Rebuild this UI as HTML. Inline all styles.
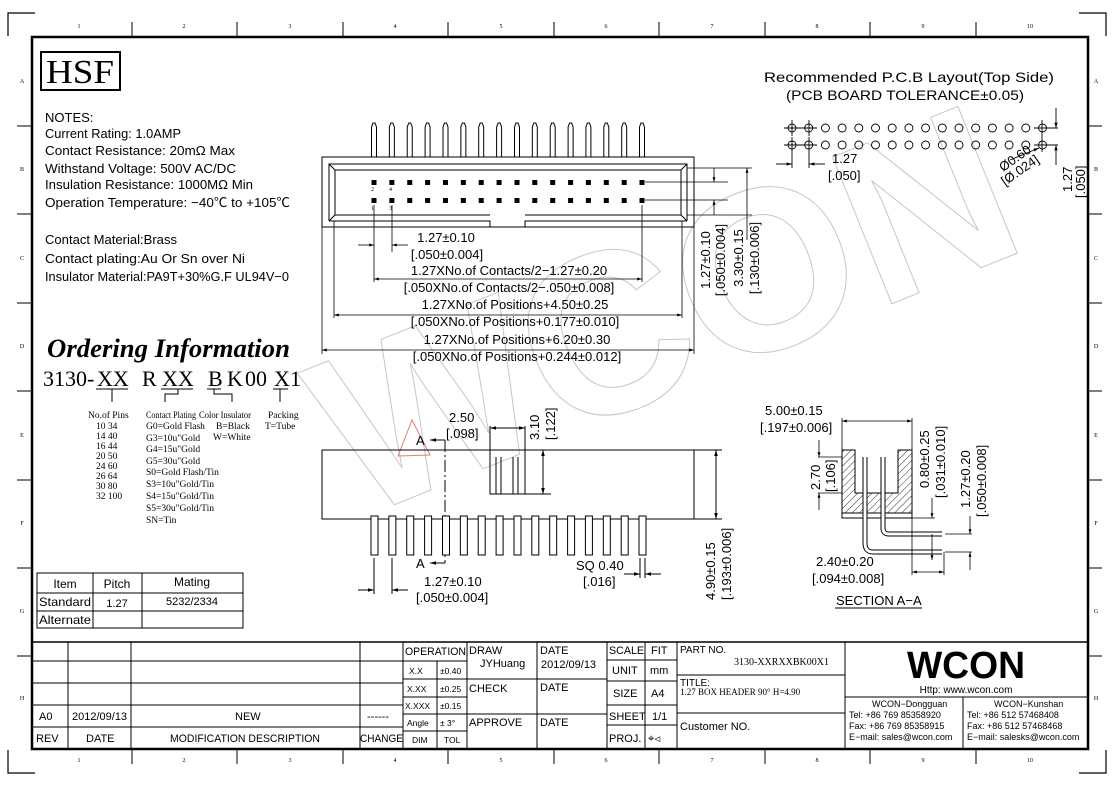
<!DOCTYPE html>
<html><head><meta charset="utf-8"><style>
html,body{margin:0;padding:0;background:#fff;}
svg{display:block;}
text{font-family:"Liberation Sans","Noto Sans CJK SC",sans-serif;fill:#000;}
text.s,.s text{font-family:"Liberation Serif","Noto Serif CJK SC",serif;}
.t13,.t13 text{font-size:13px;}
.t12 text{font-size:12px;}
.t11 text{font-size:11px;}
.o9 text{font-family:"Liberation Serif",serif;font-size:9.5px;}
text.wm{fill:none;stroke:#c4c4d4;stroke-width:1;}
</style></head><body>
<svg width="1114" height="786" viewBox="0 0 1114 786" xmlns="http://www.w3.org/2000/svg">
<defs>
<marker id="ar" viewBox="0 0 10 10" refX="10" refY="5" markerWidth="8" markerHeight="6" orient="auto-start-reverse"><path d="M0,2 L10,5 L0,8 z" fill="#000"/></marker>
<pattern id="hatch" patternUnits="userSpaceOnUse" width="5" height="5" patternTransform="rotate(45)"><line x1="0" y1="0" x2="0" y2="5" stroke="#000" stroke-width="0.8"/></pattern>
</defs>

<text class="wm" x="300" y="430" transform="rotate(-22 560 330)" font-size="230" font-weight="bold">WCON</text>
<path d="M412,420 L430,455 L398,456 Z" fill="none" stroke="#e08070" stroke-width="1"/>

<g stroke="#000" stroke-width="1.2" fill="none">
<path d="M8,36 V13 H35"/><path d="M1079,13 H1106 V36"/><path d="M8,750 V773 H35"/><path d="M1079,773 H1106 V750"/>
</g>
<rect x="32" y="37" width="1056" height="712" fill="none" stroke="#000" stroke-width="2.5"/>
<g stroke="#000" stroke-width="1">
<line x1="132" y1="22" x2="132" y2="37"/><line x1="237" y1="22" x2="237" y2="37"/><line x1="343" y1="22" x2="343" y2="37"/><line x1="448" y1="22" x2="448" y2="37"/><line x1="554" y1="22" x2="554" y2="37"/><line x1="659" y1="22" x2="659" y2="37"/><line x1="765" y1="22" x2="765" y2="37"/><line x1="870" y1="22" x2="870" y2="37"/><line x1="976" y1="22" x2="976" y2="37"/>
<line x1="132" y1="749" x2="132" y2="764"/><line x1="237" y1="749" x2="237" y2="764"/><line x1="343" y1="749" x2="343" y2="764"/><line x1="448" y1="749" x2="448" y2="764"/><line x1="554" y1="749" x2="554" y2="764"/><line x1="659" y1="749" x2="659" y2="764"/><line x1="765" y1="749" x2="765" y2="764"/><line x1="870" y1="749" x2="870" y2="764"/><line x1="976" y1="749" x2="976" y2="764"/>
<line x1="17" y1="126" x2="32" y2="126"/><line x1="17" y1="214" x2="32" y2="214"/><line x1="17" y1="303" x2="32" y2="303"/><line x1="17" y1="391" x2="32" y2="391"/><line x1="17" y1="480" x2="32" y2="480"/><line x1="17" y1="568" x2="32" y2="568"/><line x1="17" y1="656" x2="32" y2="656"/>
<line x1="1088" y1="126" x2="1102" y2="126"/><line x1="1088" y1="214" x2="1102" y2="214"/><line x1="1088" y1="303" x2="1102" y2="303"/><line x1="1088" y1="391" x2="1102" y2="391"/><line x1="1088" y1="480" x2="1102" y2="480"/><line x1="1088" y1="568" x2="1102" y2="568"/><line x1="1088" y1="656" x2="1102" y2="656"/>
</g>
<g class="s" font-size="6" text-anchor="middle">
<text x="79" y="28">1</text><text x="184" y="28">2</text><text x="290" y="28">3</text><text x="395" y="28">4</text><text x="501" y="28">5</text><text x="606" y="28">6</text><text x="712" y="28">7</text><text x="817" y="28">8</text><text x="923" y="28">9</text><text x="1030" y="28">10</text>
<text x="79" y="762">1</text><text x="184" y="762">2</text><text x="290" y="762">3</text><text x="395" y="762">4</text><text x="501" y="762">5</text><text x="606" y="762">6</text><text x="712" y="762">7</text><text x="817" y="762">8</text><text x="923" y="762">9</text><text x="1030" y="762">10</text>
<text x="22" y="83">A</text><text x="22" y="171">B</text><text x="22" y="260">C</text><text x="22" y="348">D</text><text x="22" y="437">E</text><text x="22" y="525">F</text><text x="22" y="613">G</text><text x="22" y="700">H</text>
<text x="1096" y="83">A</text><text x="1096" y="171">B</text><text x="1096" y="260">C</text><text x="1096" y="348">D</text><text x="1096" y="437">E</text><text x="1096" y="525">F</text><text x="1096" y="613">G</text><text x="1096" y="700">H</text>
</g>

<rect x="41" y="52" width="79" height="38" fill="none" stroke="#000" stroke-width="2"/>
<text x="80" y="83" class="s" font-size="34" text-anchor="middle" textLength="68" lengthAdjust="spacingAndGlyphs">HSF</text>

<g class="t13">
<text x="45" y="122">NOTES:</text>
<text x="45" y="138" textLength="136" lengthAdjust="spacingAndGlyphs">Current Rating: 1.0AMP</text>
<text x="45" y="155" textLength="190" lengthAdjust="spacingAndGlyphs">Contact Resistance: 20mΩ Max</text>
<text x="45" y="173" textLength="191" lengthAdjust="spacingAndGlyphs">Withstand Voltage: 500V AC/DC</text>
<text x="45" y="189" textLength="208" lengthAdjust="spacingAndGlyphs">Insulation Resistance: 1000MΩ Min</text>
<text x="45" y="207" textLength="245" lengthAdjust="spacingAndGlyphs">Operation Temperature: −40℃ to +105℃</text>
<text x="45" y="244" textLength="132" lengthAdjust="spacingAndGlyphs">Contact Material:Brass</text>
<text x="45" y="263" textLength="200" lengthAdjust="spacingAndGlyphs">Contact plating:Au Or Sn over Ni</text>
<text x="45" y="281" textLength="244" lengthAdjust="spacingAndGlyphs">Insulator Material:PA9T+30%G.F UL94V−0</text>
</g>

<text x="47" y="357" class="s" font-size="26" font-weight="bold" font-style="italic" textLength="243" lengthAdjust="spacingAndGlyphs">Ordering Information</text>
<g class="s" font-size="22">
<text x="43" y="386">3130-</text><text x="97" y="386">XX</text><text x="142" y="386">R</text><text x="162" y="386">XX</text><text x="208" y="386">B</text><text x="227" y="386">K</text><text x="245" y="386">00</text><text x="274" y="386">X</text><text x="290" y="386">1</text>
</g>
<g stroke="#000" stroke-width="1" fill="none">
<line x1="96" y1="389" x2="128" y2="389"/><line x1="161" y1="389" x2="193" y2="389"/><line x1="207" y1="389" x2="221" y2="389"/><line x1="273" y1="389" x2="288" y2="389"/>
<line x1="112" y1="389" x2="112" y2="402"/>
<path d="M178,389 V394 H165 V402"/>
<path d="M214,389 V394 H232 V402"/>
<line x1="280" y1="389" x2="280" y2="402"/>
</g>
<g class="o9">
<text x="88" y="418">No.of Pins</text>
<text x="96" y="429">10  34</text><text x="96" y="439">14  40</text><text x="96" y="449">16  44</text><text x="96" y="459">20  50</text><text x="96" y="469">24  60</text><text x="96" y="479">26  64</text><text x="96" y="489">30  80</text><text x="96" y="499">32 100</text>
<text x="146" y="418" textLength="50" lengthAdjust="spacingAndGlyphs">Contact Plating</text>
<text x="146" y="429">G0=Gold Flash</text><text x="146" y="441">G3=10u"Gold</text><text x="146" y="452">G4=15u"Gold</text><text x="146" y="464">G5=30u"Gold</text><text x="146" y="475">S0=Gold Flash/Tin</text><text x="146" y="487">S3=10u"Gold/Tin</text><text x="146" y="499">S4=15u"Gold/Tin</text><text x="146" y="511">S5=30u"Gold/Tin</text><text x="146" y="523">SN=Tin</text>
<text x="199" y="418" textLength="52" lengthAdjust="spacingAndGlyphs">Color Insulator</text>
<text x="216" y="429">B=Black</text><text x="213" y="440">W=White</text>
<text x="268" y="418">Packing</text><text x="265" y="429">T=Tube</text>
</g>

<g stroke="#000" stroke-width="1" fill="none">
<rect x="37" y="573" width="206" height="55"/>
<line x1="37" y1="593" x2="243" y2="593"/><line x1="37" y1="611" x2="243" y2="611"/>
<line x1="93" y1="573" x2="93" y2="628"/><line x1="142" y1="573" x2="142" y2="628"/>
</g>
<g class="t12" text-anchor="middle">
<text x="65" y="588">Item</text><text x="117" y="588">Pitch</text><text x="192" y="586">Mating</text>
<text x="65" y="606" textLength="52" lengthAdjust="spacingAndGlyphs">Standard</text><text x="117" y="607" style="font-size:11px">1.27</text><text x="192" y="605" style="font-size:11px">5232/2334</text>
<text x="65" y="624" textLength="52" lengthAdjust="spacingAndGlyphs">Alternate</text>
</g>

<!-- TOP VIEW -->
<g stroke="#000" stroke-width="1" fill="none">
<rect x="322" y="157" width="372" height="70"/>
<path d="M329,221 V164 H687 V221"/>
<path d="M329,164 L335,170 H681 L687,164 M681,170 V215 L687,221 M335,170 V215 L329,221"/>
<path d="M329,221 H490 V227 M525,227 V221 H687"/>
<path d="M335,215 H490 M525,215 H681"/>
</g>
<g id="pinsT" stroke="#000" stroke-width="1" fill="none">
<path d="M371.5,157 V127 L373,123 H375 L376.5,127 V157"/>
</g>
<use href="#pinsT" x="17.87"/><use href="#pinsT" x="35.74"/><use href="#pinsT" x="53.6"/><use href="#pinsT" x="71.5"/><use href="#pinsT" x="89.35"/><use href="#pinsT" x="107.2"/><use href="#pinsT" x="125.1"/><use href="#pinsT" x="143"/><use href="#pinsT" x="160.8"/><use href="#pinsT" x="178.7"/><use href="#pinsT" x="196.6"/><use href="#pinsT" x="214.4"/><use href="#pinsT" x="232.3"/><use href="#pinsT" x="250.2"/><use href="#pinsT" x="268"/>
<g id="ctc" fill="#000">
<rect x="371.5" y="180" width="5" height="5"/><rect x="371.5" y="198" width="5" height="5"/>
</g>
<use href="#ctc" x="17.87"/><use href="#ctc" x="35.74"/><use href="#ctc" x="53.6"/><use href="#ctc" x="71.5"/><use href="#ctc" x="89.35"/><use href="#ctc" x="107.2"/><use href="#ctc" x="125.1"/><use href="#ctc" x="143"/><use href="#ctc" x="160.8"/><use href="#ctc" x="178.7"/><use href="#ctc" x="196.6"/><use href="#ctc" x="214.4"/><use href="#ctc" x="232.3"/><use href="#ctc" x="250.2"/><use href="#ctc" x="268"/>
<g class="s" font-size="6"><text x="371" y="191">2</text><text x="389" y="191">4</text><text x="371" y="210">1</text><text x="389" y="210">3</text></g>
<g stroke="#000" stroke-width="0.8" fill="none">
<line x1="645" y1="182" x2="728" y2="182"/><line x1="645" y1="200" x2="728" y2="200"/>
<line x1="687" y1="168" x2="752" y2="168"/><line x1="687" y1="215" x2="752" y2="215"/>
<line x1="714" y1="168" x2="714" y2="182" marker-end="url(#ar)"/><line x1="714" y1="215" x2="714" y2="200" marker-end="url(#ar)"/>
<line x1="747" y1="168" x2="747" y2="240" marker-start="url(#ar)"/>
<line x1="374" y1="205" x2="374" y2="282"/><line x1="392" y1="205" x2="392" y2="252"/>
<line x1="358" y1="245" x2="374" y2="245" marker-end="url(#ar)"/><line x1="408" y1="245" x2="392" y2="245" marker-end="url(#ar)"/>
<line x1="642" y1="205" x2="642" y2="282"/>
<line x1="374" y1="279" x2="642" y2="279" marker-start="url(#ar)" marker-end="url(#ar)"/>
<line x1="334" y1="221" x2="334" y2="318"/><line x1="682" y1="221" x2="682" y2="318"/>
<line x1="334" y1="315" x2="682" y2="315" marker-start="url(#ar)" marker-end="url(#ar)"/>
<line x1="322" y1="227" x2="322" y2="354"/><line x1="694" y1="227" x2="694" y2="354"/>
<line x1="322" y1="350" x2="694" y2="350" marker-start="url(#ar)" marker-end="url(#ar)"/>
</g>
<g class="t13" text-anchor="middle">
<text x="446" y="242">1.27±0.10</text><text x="447" y="259">[.050±0.004]</text>
<text x="509" y="275">1.27XNo.of Contacts/2−1.27±0.20</text>
<text x="509" y="292">[.050XNo.of Contacts/2−.050±0.008]</text>
<text x="515" y="309">1.27XNo.of Positions+4.50±0.25</text>
<text x="515" y="326">[.050XNo.of Positions+0.177±0.010]</text>
<text x="517" y="344">1.27XNo.of Positions+6.20±0.30</text>
<text x="517" y="361">[.050XNo.of Positions+0.244±0.012]</text>
<text transform="translate(710,260) rotate(-90)">1.27±0.10</text>
<text transform="translate(725,260) rotate(-90)">[.050±0.004]</text>
<text transform="translate(743,258) rotate(-90)">3.30±0.15</text>
<text transform="translate(759,258) rotate(-90)">[.130±0.006]</text>
</g>

<!-- FRONT VIEW -->
<g stroke="#000" stroke-width="1" fill="none">
<rect x="322" y="450" width="372" height="69"/>
<path d="M490,426 V494 H525 V426"/>
<line x1="496" y1="457" x2="496" y2="494"/><line x1="501" y1="457" x2="501" y2="494"/>
<line x1="513" y1="457" x2="513" y2="494"/><line x1="518" y1="457" x2="518" y2="494"/>
<line x1="525" y1="494" x2="551" y2="494"/><line x1="525" y1="450" x2="551" y2="450"/>
<line x1="543" y1="450" x2="543" y2="494" marker-start="url(#ar)" marker-end="url(#ar)"/>
<line x1="490" y1="428" x2="525" y2="428" marker-start="url(#ar)" marker-end="url(#ar)"/>
<line x1="694" y1="450" x2="722" y2="450"/><line x1="694" y1="519" x2="722" y2="519"/>
<line x1="716" y1="450" x2="716" y2="519" marker-start="url(#ar)" marker-end="url(#ar)"/>
<line x1="445" y1="440" x2="445" y2="563" stroke-dasharray="12,3,2,3"/>
<line x1="445" y1="440" x2="430" y2="440" marker-end="url(#ar)"/><line x1="445" y1="563" x2="430" y2="563" marker-end="url(#ar)"/>
<line x1="374" y1="558" x2="374" y2="594"/><line x1="392" y1="558" x2="392" y2="594"/>
<line x1="358" y1="590" x2="374" y2="590" marker-end="url(#ar)"/><line x1="408" y1="590" x2="392" y2="590" marker-end="url(#ar)"/>
<line x1="640" y1="558" x2="640" y2="578"/><line x1="645" y1="558" x2="645" y2="578"/>
<line x1="624" y1="574" x2="640" y2="574" marker-end="url(#ar)"/><line x1="661" y1="574" x2="645" y2="574" marker-end="url(#ar)"/>
</g>
<g id="pinF" stroke="#000" stroke-width="1" fill="#fff">
<rect x="371" y="516" width="7" height="39"/>
</g>
<use href="#pinF" x="17.87"/><use href="#pinF" x="35.74"/><use href="#pinF" x="53.6"/><use href="#pinF" x="71.5"/><use href="#pinF" x="89.35"/><use href="#pinF" x="107.2"/><use href="#pinF" x="125.1"/><use href="#pinF" x="143"/><use href="#pinF" x="160.8"/><use href="#pinF" x="178.7"/><use href="#pinF" x="196.6"/><use href="#pinF" x="214.4"/><use href="#pinF" x="232.3"/><use href="#pinF" x="250.2"/><use href="#pinF" x="268"/>
<g class="t13">
<text x="449" y="422">2.50</text><text x="446" y="438">[.098]</text>
<text transform="translate(539,440) rotate(-90)">3.10</text><text transform="translate(555,440) rotate(-90)">[.122]</text>
<text x="416" y="445">A</text><text x="416" y="568">A</text>
<text x="424" y="586">1.27±0.10</text><text x="416" y="602">[.050±0.004]</text>
<text x="576" y="570">SQ 0.40</text><text x="583" y="586">[.016]</text>
<text transform="translate(715,600) rotate(-90)">4.90±0.15</text><text transform="translate(731,600) rotate(-90)">[.193±0.006]</text>
</g>

<!-- SECTION A-A -->
<g stroke="#000" stroke-width="1">
<path d="M842,450 H855 V493 H898 V450 H912 V513 H842 Z" fill="url(#hatch)"/>
<rect x="842" y="513" width="70" height="5" fill="#fff"/>
<path d="M865,457 V543 Q865,552 873,552 H942" fill="none" stroke-width="5"/>
<path d="M865,457 V543 Q865,552 873,552 H942" fill="none" stroke="#fff" stroke-width="3"/>
<path d="M883,457 V528 Q883,534 889,534 H942" fill="none" stroke-width="5"/>
<path d="M883,457 V528 Q883,534 889,534 H942" fill="none" stroke="#fff" stroke-width="3"/>
</g>
<g stroke="#000" stroke-width="0.8" fill="none">
<line x1="842" y1="418" x2="842" y2="450"/><line x1="912" y1="418" x2="912" y2="575"/>
<line x1="842" y1="421" x2="912" y2="421" marker-start="url(#ar)" marker-end="url(#ar)"/>
<line x1="818" y1="457" x2="842" y2="457"/><line x1="818" y1="493" x2="842" y2="493"/>
<line x1="819" y1="440" x2="819" y2="457" marker-end="url(#ar)"/><line x1="819" y1="510" x2="819" y2="493" marker-end="url(#ar)"/>
<line x1="912" y1="518" x2="935" y2="518"/>
<line x1="932" y1="498" x2="932" y2="518" marker-end="url(#ar)"/><line x1="932" y1="560" x2="932" y2="534" marker-start="url(#ar)"/>
<line x1="945" y1="534" x2="972" y2="534"/><line x1="945" y1="552" x2="972" y2="552"/>
<line x1="970" y1="516" x2="970" y2="534" marker-end="url(#ar)"/><line x1="970" y1="570" x2="970" y2="552" marker-end="url(#ar)"/>
<line x1="944" y1="552" x2="944" y2="575"/>
<line x1="912" y1="572" x2="944" y2="572" marker-start="url(#ar)" marker-end="url(#ar)"/>
</g>
<g class="t13">
<text x="765" y="415">5.00±0.15</text><text x="760" y="432">[.197±0.006]</text>
<text transform="translate(820,490) rotate(-90)">2.70</text><text transform="translate(835,492) rotate(-90)">[.106]</text>
<text transform="translate(929,488) rotate(-90)">0.80±0.25</text><text transform="translate(945,498) rotate(-90)">[.031±0.010]</text>
<text transform="translate(970,508) rotate(-90)">1.27±0.20</text><text transform="translate(986,517) rotate(-90)">[.050±0.008]</text>
<text x="816" y="566">2.40±0.20</text><text x="812" y="583">[.094±0.008]</text>
<text x="836" y="605">SECTION  A−A</text>
</g>
<line x1="835" y1="608" x2="922" y2="608" stroke="#000" stroke-width="1"/>

<!-- PCB LAYOUT -->
<g text-anchor="middle">
<text x="909" y="82" font-size="14" textLength="290" lengthAdjust="spacingAndGlyphs">Recommended P.C.B Layout(Top Side)</text>
<text x="905" y="100" font-size="14" textLength="238" lengthAdjust="spacingAndGlyphs">(PCB BOARD TOLERANCE±0.05)</text>
</g>
<g id="hole" fill="none" stroke="#000" stroke-width="0.9"><circle cx="792" cy="128" r="4"/><circle cx="792" cy="145" r="4"/></g>
<use href="#hole" x="16.7"/><use href="#hole" x="33.4"/><use href="#hole" x="50.1"/><use href="#hole" x="66.8"/><use href="#hole" x="83.5"/><use href="#hole" x="100.2"/><use href="#hole" x="116.9"/><use href="#hole" x="133.6"/><use href="#hole" x="150.3"/><use href="#hole" x="167"/><use href="#hole" x="183.7"/><use href="#hole" x="200.4"/><use href="#hole" x="217.1"/><use href="#hole" x="233.8"/><use href="#hole" x="250.5"/>
<g stroke="#000" stroke-width="0.9" fill="none">
<path d="M784,128 H817 M792,120 V136 M809,120 V136 M784,145 H817 M792,137 V168 M809,137 V168"/>
<path d="M1034,128 H1058 M1042,120 V152 M1034,145 H1058"/>
<line x1="776" y1="164" x2="792" y2="164" marker-end="url(#ar)"/><line x1="825" y1="164" x2="809" y2="164" marker-end="url(#ar)"/>
<line x1="1056" y1="108" x2="1056" y2="128" marker-end="url(#ar)"/><line x1="1056" y1="165" x2="1056" y2="145" marker-end="url(#ar)"/>
<line x1="1010" y1="160" x2="1039" y2="148" marker-end="url(#ar)"/>
</g>
<g class="t13">
<text x="832" y="163">1.27</text><text x="828" y="180">[.050]</text>
<text transform="translate(1003,172) rotate(-35)">Ø0.60</text><text transform="translate(1005,186) rotate(-35)">[Ø.024]</text>
<text transform="translate(1072,192) rotate(-90)">1.27</text><text transform="translate(1085,198) rotate(-90)">[.050]</text>
</g>

<!-- TITLE BLOCK -->
<g stroke="#000" stroke-width="1" fill="none">
<line x1="32" y1="642" x2="1088" y2="642" stroke-width="1.5"/>
<line x1="68" y1="642" x2="68" y2="749"/><line x1="131" y1="642" x2="131" y2="749"/><line x1="360" y1="642" x2="360" y2="749"/><line x1="403" y1="642" x2="403" y2="749"/>
<line x1="32" y1="661" x2="403" y2="661"/><line x1="32" y1="683" x2="403" y2="683"/><line x1="32" y1="705" x2="403" y2="705"/><line x1="32" y1="727" x2="403" y2="727"/>
<line x1="437" y1="661" x2="437" y2="749"/><line x1="467" y1="642" x2="467" y2="749"/>
<line x1="403" y1="661" x2="467" y2="661"/><line x1="403" y1="679" x2="467" y2="679"/><line x1="403" y1="697" x2="467" y2="697"/><line x1="403" y1="714" x2="467" y2="714"/><line x1="403" y1="731" x2="467" y2="731"/>
<line x1="537" y1="642" x2="537" y2="749"/><line x1="467" y1="679" x2="607" y2="679"/><line x1="467" y1="714" x2="607" y2="714"/>
<line x1="607" y1="642" x2="607" y2="749"/><line x1="645" y1="642" x2="645" y2="749"/>
<line x1="607" y1="660" x2="677" y2="660"/><line x1="607" y1="681" x2="677" y2="681"/><line x1="607" y1="705" x2="677" y2="705"/><line x1="607" y1="725" x2="677" y2="725"/>
<line x1="677" y1="642" x2="677" y2="749"/><line x1="677" y1="675" x2="845" y2="675"/><line x1="677" y1="713" x2="845" y2="713"/>
<line x1="845" y1="642" x2="845" y2="749"/><line x1="845" y1="697" x2="1088" y2="697"/><line x1="963" y1="697" x2="963" y2="749"/>
</g>
<g class="t11">
<text x="39" y="720">A0</text><text x="72" y="720">2012/09/13</text><text x="235" y="720">NEW</text><text x="367" y="720">------</text>
<text x="36" y="742">REV</text><text x="86" y="742">DATE</text><text x="170" y="742" textLength="150" lengthAdjust="spacingAndGlyphs">MODIFICATION DESCRIPTION</text><text x="360" y="742" textLength="43" lengthAdjust="spacingAndGlyphs">CHANGE</text>
<text x="405" y="655" textLength="61" lengthAdjust="spacingAndGlyphs">OPERATION</text><text x="469" y="654">DRAW</text><text x="540" y="654">DATE</text><text x="609" y="654" textLength="35" lengthAdjust="spacingAndGlyphs">SCALE</text><text x="651" y="654">FIT</text>
<text x="680" y="653" style="font-size:10px">PART NO.</text>
<text x="734" y="665" class="s" style="font-size:10px">3130-XXRXXBK00X1</text>
<text x="480" y="667">JYHuang</text><text x="541" y="668">2012/09/13</text>
<text x="612" y="674">UNIT</text><text x="650" y="674">mm</text>
<text x="680" y="686" style="font-size:10px">TITLE:</text>
<text x="680" y="695" class="s" style="font-size:9px">1.27 BOX HEADER 90° H=4.90</text>
<text x="469" y="692">CHECK</text><text x="540" y="691">DATE</text>
<text x="613" y="697">SIZE</text><text x="651" y="697">A4</text>
<text x="609" y="720">SHEET</text><text x="652" y="720">1/1</text>
<text x="469" y="726">APPROVE</text><text x="540" y="726">DATE</text>
<text x="680" y="730">Customer NO.</text>
<text x="609" y="742">PROJ.</text><text x="648" y="742">⌖⊲</text>
</g>
<g font-size="8.5">
<text x="409" y="674">X.X</text><text x="440" y="674">±0.40</text>
<text x="407" y="692">X.XX</text><text x="440" y="692">±0.25</text>
<text x="405" y="709">X.XXX</text><text x="440" y="709">±0.15</text>
<text x="407" y="726">Angle</text><text x="440" y="726">± 3°</text>
<text x="412" y="743">DIM</text><text x="444" y="743">TOL</text>
</g>
<text x="966" y="678" font-size="38" font-weight="bold" text-anchor="middle" fill="#222" textLength="118" lengthAdjust="spacingAndGlyphs">WCON</text>
<text x="966" y="693" font-size="10" text-anchor="middle">Http: www.wcon.com</text>
<g font-size="9">
<text x="872" y="707">WCON−Dongguan</text><text x="849" y="718">Tel: +86 769 85358920</text><text x="849" y="729">Fax: +86 769 85358915</text><text x="849" y="740">E−mail: sales@wcon.com</text>
<text x="994" y="707">WCON−Kunshan</text><text x="967" y="718">Tel: +86 512 57468408</text><text x="967" y="729">Fax: +86 512 57468468</text><text x="967" y="740">E−mail: salesks@wcon.com</text>
</g>
</svg>
</body></html>
